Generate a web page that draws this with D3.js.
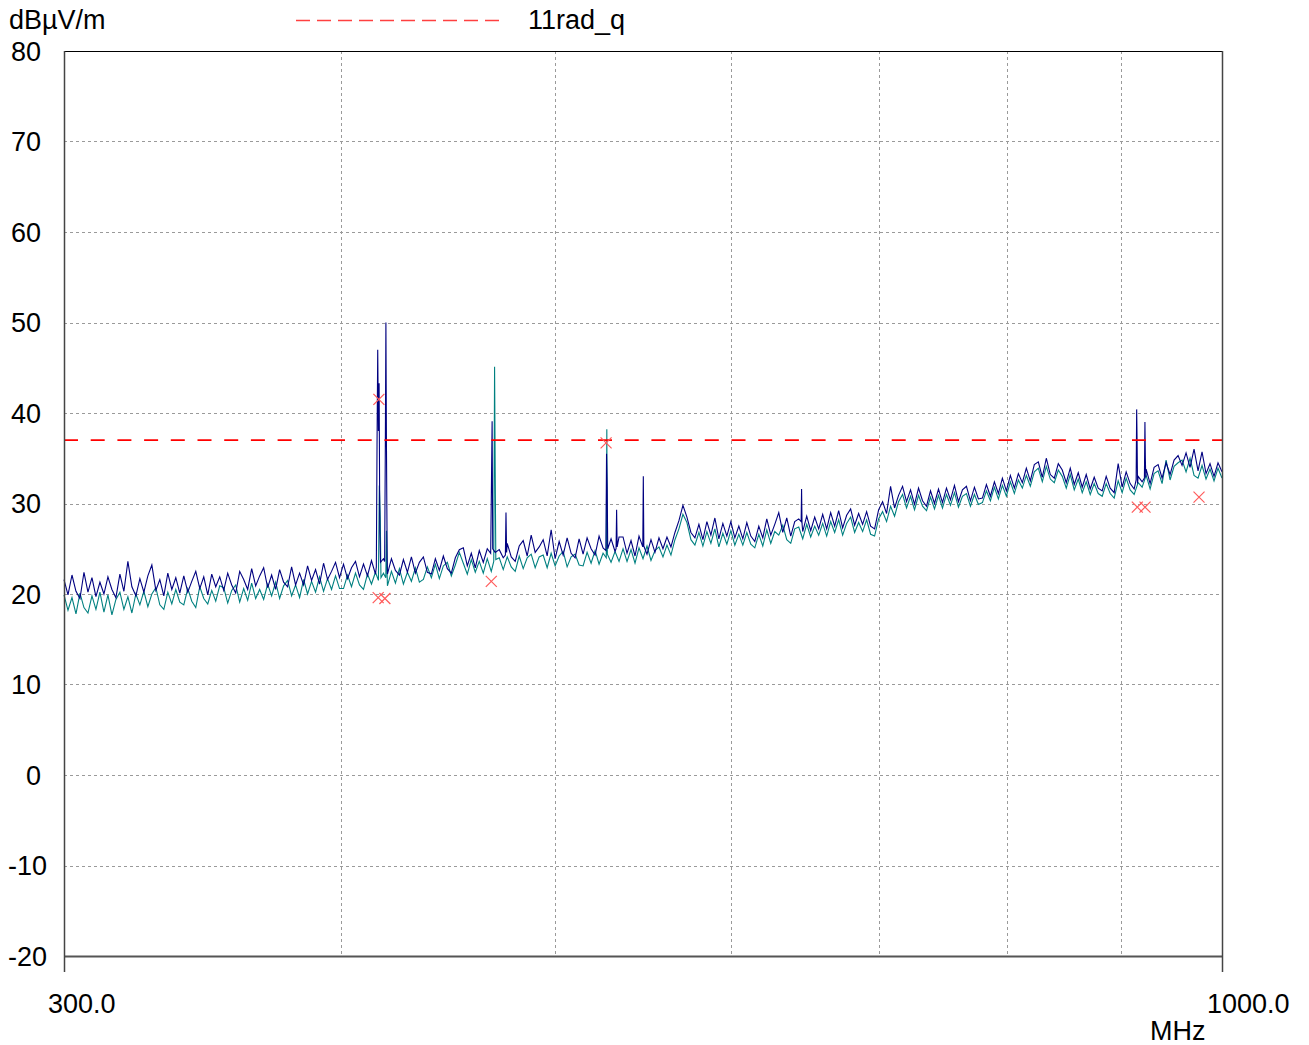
<!DOCTYPE html>
<html><head><meta charset="utf-8">
<script src="https://cdn.jsdelivr.net/npm/d3@7"></script>
<style>
body{margin:0;background:#fff;}
svg{display:block;font-family:"Liberation Sans",Arial,sans-serif;}
</style>
</head><body>
<svg id="chart" width="1309" height="1045"></svg>
<script>
// ---------------- data ----------------
const freqRange = [300, 1000];               // MHz, sweep start / stop
const levelRange = [-20, 80];                // dBµV/m
const yTicks = [80, 70, 60, 50, 40, 30, 20, 10, 0, -10, -20];
const gridFreqs = [400, 500, 600, 700, 800, 900];
const xTickLabels = ["300.0", "1000.0"];
const unitY = "dBµV/m";
const unitX = "MHz";
const limitName = "11rad_q";
const limitLevel = 37;

// navy trace: sweep levels (evenly spaced on the log-frequency sweep)
const navyLevels = [
21.6,19.9,22.1,20.3,19.5,22.4,20.2,21.8,19.7,21.3,
20.0,21.9,20.5,19.6,22.2,20.3,23.6,20.8,19.8,21.7,
20.2,22.0,23.2,20.4,21.6,19.8,22.3,20.5,21.8,20.1,
22.0,20.2,21.4,22.5,20.6,21.9,19.9,22.2,20.8,21.9,
20.4,22.3,21.0,20.1,22.5,21.6,20.5,22.8,20.9,22.0,
22.9,20.7,22.1,20.5,22.7,21.3,20.8,23.0,21.0,22.3,
21.0,23.1,21.5,22.7,21.1,23.4,21.6,22.5,23.5,21.8,
23.3,21.7,22.9,23.6,21.9,23.3,22.0,23.7,22.2,23.8,
23.9,22.2,23.9,22.6,22.1,23.8,22.4,24.1,22.3,23.5,
24.1,22.4,22.2,23.9,22.6,24.2,22.8,22.3,24.0,24.9,
25.1,23.1,24.5,22.9,24.8,23.5,25.0,23.2,24.6,24.9,
24.0,25.6,24.1,23.6,25.3,25.9,24.2,26.5,24.6,25.2,
26.0,24.2,27.1,23.9,25.8,24.3,26.2,24.5,24.0,26.1,
24.4,26.2,25.0,24.3,26.4,25.1,24.5,26.1,24.7,26.3,
26.3,24.5,25.9,24.2,26.4,25.0,24.4,26.0,24.6,26.2,
25.0,26.3,25.2,26.8,28.1,29.8,28.5,26.8,26.2,27.7,
26.0,28.0,26.5,28.4,26.1,27.8,26.4,28.0,26.2,27.5,
26.1,27.9,26.4,25.8,27.5,26.2,28.3,26.5,27.7,29.0,
26.8,28.4,26.4,28.0,28.3,26.9,28.6,27.0,28.5,27.2,
28.8,27.2,29.0,27.5,29.2,27.3,28.7,29.4,27.6,28.9,
27.7,29.1,27.5,27.2,29.3,30.2,28.9,31.9,29.5,30.9,
31.9,30.2,31.5,29.9,31.7,30.3,29.7,31.4,30.0,31.6,
30.1,31.7,30.4,32.0,30.2,31.5,31.9,30.3,31.8,30.5,
30.6,32.1,30.8,32.4,31.1,32.8,31.4,33.1,31.7,33.3,
32.3,33.9,32.5,34.3,34.6,32.9,35.0,33.2,32.8,34.4,
33.7,32.3,33.9,32.1,33.4,31.8,33.2,31.6,32.9,31.7,
31.4,33.0,31.7,31.2,34.4,31.8,33.5,32.2,31.6,33.0,
32.4,33.8,32.2,34.0,34.3,32.8,34.5,33.2,34.8,35.3,
34.2,35.6,34.0,36.0,33.6,35.7,33.3,34.4,33.0,34.5,
33.5];

// teal trace: sweep levels
const tealLevels = [
19.9,18.2,19.6,17.8,20.1,18.5,17.9,19.8,18.3,20.2,
18.0,19.9,17.7,19.4,20.2,18.3,19.7,17.9,20.0,18.8,
20.3,18.6,20.0,20.7,18.8,18.3,20.2,18.9,20.5,19.1,
18.8,20.6,19.2,18.5,20.8,19.5,18.9,20.4,19.2,20.9,
20.7,19.0,20.4,21.0,19.1,20.6,19.3,21.2,19.5,20.5,
19.4,21.1,19.8,21.3,19.5,20.9,21.5,19.8,21.0,19.6,
21.6,20.0,21.4,20.2,21.9,20.3,21.7,20.5,22.0,20.6,
20.6,22.1,20.8,22.3,21.0,20.5,22.2,21.1,22.4,20.9,
22.3,20.9,22.5,21.2,22.8,21.1,22.4,21.4,22.9,21.3,
21.6,23.0,21.8,23.3,21.7,23.1,23.5,22.0,23.2,24.6,
23.4,22.2,23.8,22.4,23.6,22.3,23.9,22.5,23.7,24.0,
22.7,24.1,23.0,22.5,24.2,22.8,24.0,24.4,22.9,24.1,
24.3,22.9,24.5,23.1,24.2,24.7,23.0,24.1,24.4,23.2,
23.1,24.6,23.4,24.8,23.3,24.5,25.0,23.5,24.7,23.6,
25.0,23.6,24.9,23.4,25.1,23.9,25.3,23.7,24.8,25.2,
24.1,25.4,24.3,26.0,27.2,28.8,27.9,26.0,25.4,26.8,
25.3,26.9,25.6,27.2,25.2,26.7,25.5,27.0,25.4,26.6,
25.4,26.8,25.5,25.1,26.6,25.3,27.1,25.6,26.9,26.5,
27.6,26.0,25.6,27.2,27.4,26.1,27.7,26.3,27.5,26.5,
27.8,26.4,28.0,26.8,28.2,26.5,27.8,28.5,26.8,27.9,
26.9,28.2,26.6,26.4,28.3,29.1,28.0,29.7,28.6,30.2,
31.0,29.5,30.8,29.3,30.9,29.7,29.2,30.7,29.4,30.9,
29.5,31.0,29.8,31.2,29.6,30.8,31.1,29.7,31.0,29.9,
30.1,31.4,30.3,31.8,30.5,32.0,30.8,32.4,31.1,32.6,
31.7,33.1,31.9,33.5,33.9,32.4,34.1,32.7,32.3,33.7,
33.0,31.7,33.2,31.5,32.7,31.2,32.4,31.0,32.2,31.1,
30.8,32.2,31.1,30.6,32.5,31.2,32.8,31.5,31.0,32.3,
31.8,33.1,31.6,33.3,33.6,32.2,34.8,32.6,34.1,34.5,
34.8,33.5,35.0,33.1,32.8,34.2,32.7,33.8,32.5,33.9,
32.8];

// narrow-band emissions: clusters of [MHz, dBµV/m]
const navyPeaks = [
  [[415.1,23.0],[415.4,36.5],[415.7,47.0],[416.0,38.0],[416.3,43.3],[416.6,27.0],[416.9,23.5]],
  [[418.7,23.6],[419.0,36.3],[419.25,50.0],[419.5,36.0],[419.8,24.0]],
  [[467.5,24.5],[467.85,31.7],[468.2,39.1],[468.5,25.0]],
  [[474.7,24.3],[475.0,29.0],[475.3,24.6]],
  [[527.0,24.8],[527.35,35.5],[527.7,31.7],[528.0,25.0]],
  [[532.6,25.0],[532.9,29.3],[533.2,25.2]],
  [[547.6,25.2],[547.9,33.0],[548.2,25.3]],
  [[645.6,28.0],[645.9,31.6],[646.2,27.8]],
  [[914.6,32.6],[915.1,40.4],[915.5,37.0],[915.9,32.2]],
  [[922.5,32.8],[923.0,39.0],[923.4,35.0],[923.8,32.9]]
];
const tealPeaks = [
  [[416.0,21.5],[416.4,32.0],[416.8,28.4],[417.1,21.8]],
  [[419.2,21.8],[419.5,27.0],[419.8,22.0]],
  [[469.0,23.6],[469.4,45.1],[469.7,33.5],[470.0,23.8]],
  [[527.2,24.0],[527.5,38.2],[527.8,24.4]]
];

// final measurement markers [MHz, dBµV/m]
const markers = [
  [416.2,41.5],[415.9,19.6],[418.8,19.5],[467.8,21.4],
  [527.1,36.7],[915.7,29.6],[923.1,29.6],[976.4,30.7]
];

// ---------------- drawing ----------------
const svg = d3.select("#chart");
const L = 64, R = 1222, T = 51, B = 956;
const x = d3.scaleLog().domain(freqRange).range([L, R]);
const y = d3.scaleLinear().domain(levelRange).range([B, T]);
const FS = 27;

function buildTrace(levels, clusters){
  const n = levels.length;
  let pts = levels.map((v, i) => [freqRange[0] * Math.pow(freqRange[1] / freqRange[0], i / (n - 1)), v]);
  clusters.forEach(c => {
    const lo = c[0][0], hi = c[c.length - 1][0];
    pts = pts.filter(p => p[0] < lo || p[0] > hi);
    pts = pts.concat(c);
  });
  return pts.sort((a, b) => a[0] - b[0]);
}

// grid
const grid = svg.append("g").attr("stroke", "#9a9a9a").attr("stroke-width", 1).attr("stroke-dasharray", "3,3");
grid.selectAll(".hg").data(yTicks.filter(t => t > levelRange[0] && t < levelRange[1])).join("line")
  .attr("x1", L).attr("x2", R).attr("y1", d => Math.round(y(d)) + 0.5).attr("y2", d => Math.round(y(d)) + 0.5);
grid.selectAll(".vg").data(gridFreqs).join("line")
  .attr("y1", T).attr("y2", B).attr("x1", d => Math.round(x(d)) + 0.5).attr("x2", d => Math.round(x(d)) + 0.5);

// traces
const line = d3.line().x(d => x(d[0])).y(d => y(d[1]));
const plot = svg.append("g");
plot.append("path").datum(buildTrace(tealLevels, tealPeaks))
  .attr("fill", "none").attr("stroke", "#008080").attr("stroke-width", 1.1).attr("d", line);
plot.append("path").datum(buildTrace(navyLevels, navyPeaks))
  .attr("fill", "none").attr("stroke", "#000080").attr("stroke-width", 1.1).attr("d", line);

// limit line
svg.append("line").attr("x1", L).attr("x2", R)
  .attr("y1", y(limitLevel)).attr("y2", y(limitLevel))
  .attr("stroke", "#ff0000").attr("stroke-width", 1.6).attr("stroke-dasharray", "14,12.7");

// markers
const mk = svg.append("g").attr("stroke", "#ff5a5a").attr("stroke-width", 1.2);
markers.forEach(m => {
  const cx = x(m[0]), cy = y(m[1]), s = 5.5;
  mk.append("line").attr("x1", cx - s).attr("y1", cy - s).attr("x2", cx + s).attr("y2", cy + s);
  mk.append("line").attr("x1", cx - s).attr("y1", cy + s).attr("x2", cx + s).attr("y2", cy - s);
});

// frame
svg.append("line").attr("x1", L).attr("x2", R).attr("y1", T + 0.5).attr("y2", T + 0.5).attr("stroke", "#000").attr("stroke-width", 1.2);
svg.append("line").attr("x1", L).attr("x2", R).attr("y1", B + 0.5).attr("y2", B + 0.5).attr("stroke", "#555").attr("stroke-width", 1.8);
svg.append("line").attr("x1", L + 0.5).attr("x2", L + 0.5).attr("y1", T).attr("y2", B + 16).attr("stroke", "#444").attr("stroke-width", 1.5);
svg.append("line").attr("x1", R + 0.5).attr("x2", R + 0.5).attr("y1", T).attr("y2", B + 16).attr("stroke", "#444").attr("stroke-width", 1.5);

// y tick labels
svg.append("g").selectAll("text").data(yTicks).join("text")
  .attr("x", d => d < 0 ? 47 : 41).attr("y", d => y(d)).attr("dy", "0.36em")
  .attr("text-anchor", "end").attr("font-size", FS).attr("fill", "#000").text(d => d);

// x labels
svg.append("text").attr("x", x(freqRange[0]) - 16).attr("y", 1013).attr("font-size", FS).text(xTickLabels[0]);
svg.append("text").attr("x", x(freqRange[1]) - 15).attr("y", 1013).attr("font-size", FS).text(xTickLabels[1]);
svg.append("text").attr("x", 1150).attr("y", 1040).attr("font-size", FS).text(unitX);

// header: unit + legend
svg.append("text").attr("x", 9).attr("y", 29).attr("font-size", FS).text(unitY);
svg.append("line").attr("x1", 296).attr("x2", 500).attr("y1", 20.5).attr("y2", 20.5)
  .attr("stroke", "#ff4040").attr("stroke-width", 1.3).attr("stroke-dasharray", "14,7");
svg.append("text").attr("x", 528).attr("y", 29).attr("font-size", FS).text(limitName);
</script>
</body></html>
